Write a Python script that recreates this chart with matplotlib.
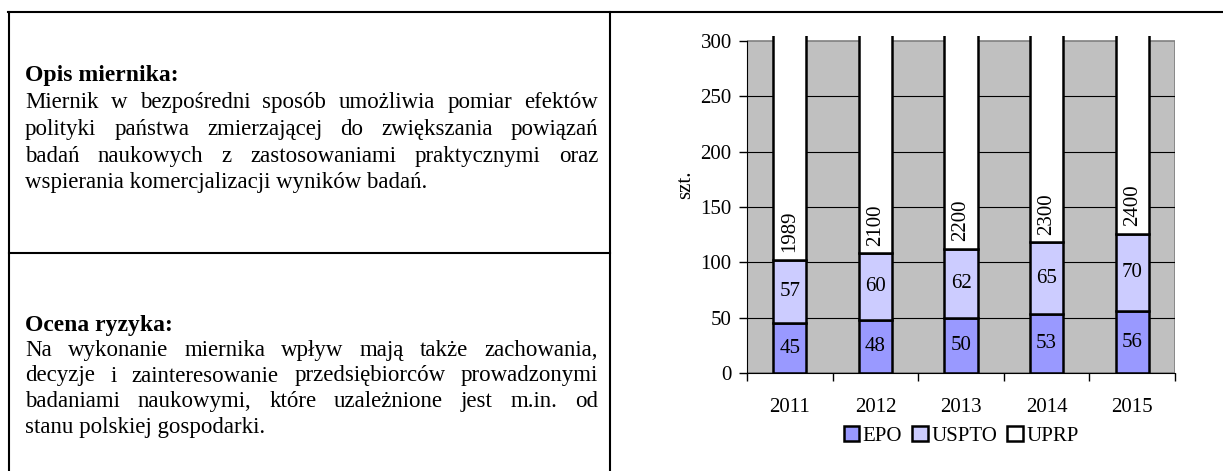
import matplotlib

matplotlib.use("Agg")
import matplotlib.pyplot as plt
import numpy as np
from matplotlib.lines import Line2D
from matplotlib.patches import Patch, Rectangle

W, H = 1223, 471

years = ["2011", "2012", "2013", "2014", "2015"]
epo = [45, 48, 50, 53, 56]
uspto = [57, 60, 62, 65, 70]
uprp = [1989, 2100, 2200, 2300, 2400]
series_names = ["EPO", "USPTO", "UPRP"]
y_ticks = [0, 50, 100, 150, 200, 250, 300]
y_label = "szt."

opis_title = "Opis miernika:"
opis_lines = [
    "Miernik w bezpośredni sposób umożliwia pomiar efektów",
    "polityki państwa zmierzającej do zwiększania powiązań",
    "badań naukowych z zastosowaniami praktycznymi oraz",
    "wspierania komercjalizacji wyników badań.",
]
ryzyko_title = "Ocena ryzyka:"
ryzyko_lines = [
    "Na wykonanie miernika wpływ mają także zachowania,",
    "decyzje i zainteresowanie przedsiębiorców prowadzonymi",
    "badaniami naukowymi, które uzależnione jest m.in. od",
    "stanu polskiej gospodarki.",
]

FONT = "Liberation Serif"
FS_TITLE = 17
FS_TEXT = 16.5
FS_CHART = 15
COLORS = ["#9999FF", "#CCCCFF", "#FFFFFF"]

plt.rcParams["font.family"] = FONT


def fx(x):
    return x / W


def fy(y):
    return 1 - y / H


def justified_block(fig, renderer, title, lines, x0, x1, y_title, step):
    fig.text(fx(x0), fy(y_title), title, fontsize=FS_TITLE, fontweight="bold", va="center", ha="left")
    for i, line in enumerate(lines):
        y = fy(y_title + step * (i + 1))
        words = line.split(" ")
        if i == len(lines) - 1:
            fig.text(fx(x0), y, line, fontsize=FS_TEXT, va="center", ha="left")
            continue
        texts = [fig.text(0, y, w, fontsize=FS_TEXT, va="center", ha="left") for w in words]
        widths = [t.get_window_extent(renderer).width for t in texts]
        gap = (x1 - x0 - sum(widths)) / (len(words) - 1)
        x = x0
        for t, wdt in zip(texts, widths):
            t.set_x(fx(x))
            x += wdt + gap


fig = plt.figure(figsize=(W / 100, H / 100), dpi=100)
renderer = fig.canvas.get_renderer()

# table frame
lw = 1.5
for xs, ys in [((8, W), (12, 12)), ((9, 9), (12, H)), ((610, 610), (12, H)), ((9, 610), (253, 253))]:
    fig.add_artist(Line2D([fx(xs[0]), fx(xs[1])], [fy(ys[0]), fy(ys[1])], color="black", lw=lw,
                          transform=fig.transFigure, solid_capstyle="projecting"))

justified_block(fig, renderer, opis_title, opis_lines, 25, 598, 76, 26.7)
justified_block(fig, renderer, ryzyko_title, ryzyko_lines, 25, 598, 325, 25.5)

# chart
top_lim = 304.5
ax = fig.add_axes([fx(747), fy(373), fx(1175) - fx(747), (373 - 36) / H])
ax.set_facecolor("none")
n = len(years)
x = np.arange(n)
ax.set_xlim(-0.5, n - 0.5)
ax.set_ylim(0, top_lim)

ax.add_patch(Rectangle((-0.5, 0), n, 300, facecolor="#C0C0C0", edgecolor="#808080", lw=1.2, zorder=0))
for t in y_ticks[1:-1]:
    ax.plot([-0.5, n - 0.5], [t, t], color="black", lw=0.8, zorder=1)

bw = 0.39
bottom = np.zeros(n)
for vals, col in zip([epo, uspto, uprp], COLORS):
    ax.bar(x, vals, bw, bottom=bottom, color=col, edgecolor="black", lw=1.8, zorder=2)
    bottom = bottom + np.array(vals)

for i in range(n):
    ax.text(x[i], epo[i] / 2, str(epo[i]), ha="center", va="center", fontsize=FS_CHART, zorder=3)
    ax.text(x[i], epo[i] + uspto[i] / 2, str(uspto[i]), ha="center", va="center", fontsize=FS_CHART, zorder=3)
    ax.text(x[i], epo[i] + uspto[i] + 7, str(uprp[i]), ha="center", va="bottom", rotation=90,
            fontsize=FS_CHART, zorder=3)

for s in ["top", "right"]:
    ax.spines[s].set_visible(False)
ax.spines["left"].set_bounds(0, 300)
ax.spines["left"].set_zorder(4)
ax.spines["bottom"].set_zorder(4)
ax.set_yticks(y_ticks)
ax.tick_params(axis="y", length=6, width=1, labelsize=FS_CHART, pad=5)

ax.set_xticks(np.arange(-0.5, n, 1.0))
ax.set_xticklabels([])
ax.tick_params(axis="x", which="major", length=6, width=1)
ax.set_xticks(x, minor=True)
ax.set_xticklabels(years, minor=True, fontsize=FS_CHART)
ax.tick_params(axis="x", which="minor", length=0, pad=18)

ax.set_ylabel(y_label, fontsize=FS_CHART)
ax.yaxis.set_label_coords(-0.122, 0.56)

handles = [Patch(facecolor=c, edgecolor="black", lw=1.8) for c in COLORS]
fig.legend(handles, series_names, loc="center", bbox_to_anchor=(fx(961), fy(436)), ncol=3, frameon=False,
           fontsize=FS_CHART, handlelength=0.75, handleheight=0.75, handletextpad=0.15, columnspacing=0.5,
           borderaxespad=0)

fig.savefig("out.png", dpi=100)
